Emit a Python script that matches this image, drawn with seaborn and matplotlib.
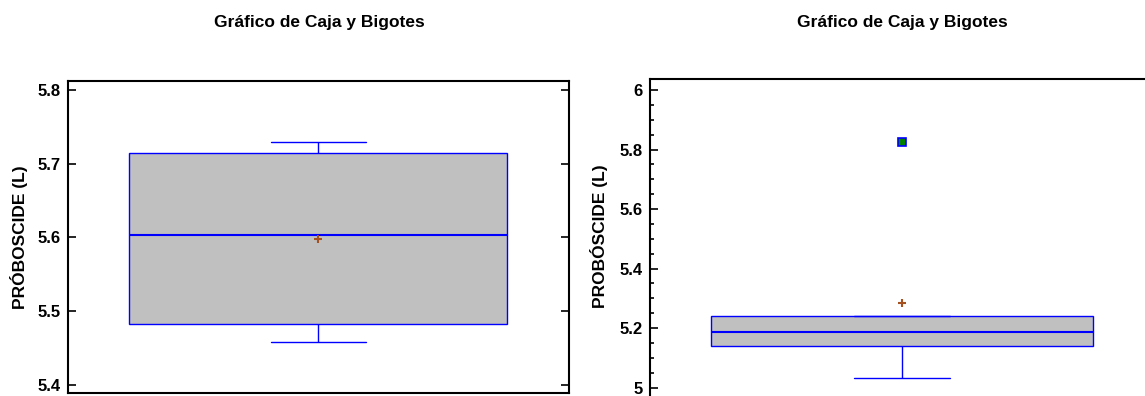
import matplotlib
matplotlib.use("Agg")
import matplotlib.pyplot as plt
from matplotlib.ticker import MultipleLocator
import seaborn as sns
import pandas as pd

left_values = [5.459, 5.4825, 5.603, 5.715, 5.729]
right_values = [5.032, 5.141, 5.186, 5.24, 5.824]

titles = ["Gráfico de Caja y Bigotes", "Gráfico de Caja y Bigotes"]
ylabels = ["PRÓBOSCIDE (L)", "PROBÓSCIDE (L)"]
left_ticks = [5.4, 5.5, 5.6, 5.7, 5.8]
right_ticks = [5.0, 5.2, 5.4, 5.6, 5.8, 6.0]
right_ticklabels = ["5", "5.2", "5.4", "5.6", "5.8", "6"]

sns.set_style("white")
plt.rcParams["font.family"] = ["Liberation Sans", "DejaVu Sans"]
plt.rcParams["font.weight"] = "bold"
plt.rcParams["text.color"] = "black"
plt.rcParams["axes.labelcolor"] = "black"
plt.rcParams["ytick.color"] = "black"

fig = plt.figure(figsize=(11.45, 3.96), dpi=100)
ax1 = fig.add_axes([0.0591, 0.0083, 0.4375, 0.787])
ax2 = fig.add_axes([0.5677, -0.0051, 0.4402, 0.8056])

box_kws = dict(
    color="#C0C0C0",
    linecolor="blue",
    linewidth=1,
    saturation=1,
    showmeans=True,
    meanprops=dict(marker="+", markeredgecolor="#A5501E", markersize=6, markeredgewidth=1.5),
    flierprops=dict(marker="s", markerfacecolor="#008000", markeredgecolor="blue",
                    markersize=5.5, markeredgewidth=1.2),
    medianprops=dict(color="blue", linewidth=1.5),
    capwidths=0.19,
)

df1 = pd.DataFrame({"v": left_values})
df2 = pd.DataFrame({"v": right_values})
sns.boxplot(data=df1, y="v", ax=ax1, width=0.755, **box_kws)
sns.boxplot(data=df2, y="v", ax=ax2, width=0.759, **box_kws)

ax1.set_ylim(5.3896, 5.812)
ax2.set_ylim(4.965, 6.037)

for ax in (ax1, ax2):
    ax.set_xlim(-0.5, 0.5)
    ax.set_xticks([])
    ax.set_xlabel("")
    for s in ax.spines.values():
        s.set_visible(True)
        s.set_color("black")
        s.set_linewidth(1.5)

ax1.set_yticks(left_ticks)
ax1.set_yticklabels([f"{t:.1f}" for t in left_ticks])
ax1.tick_params(axis="y", which="major", direction="in", length=6, width=1.2,
                left=True, right=True, labelsize=12, pad=5)

ax2.set_yticks(right_ticks)
ax2.set_yticklabels(right_ticklabels)
ax2.yaxis.set_minor_locator(MultipleLocator(0.05))
ax2.tick_params(axis="y", which="major", direction="in", length=6, width=1.2,
                left=True, labelsize=12, pad=5)
ax2.tick_params(axis="y", which="minor", direction="in", length=3, width=1.2, left=True)

for ax, lab in zip((ax1, ax2), ylabels):
    ax.set_ylabel(lab, fontsize=12.5, fontweight="bold")
    ax.yaxis.set_label_coords(-0.08, 0.5)
ax2.yaxis.set_label_coords(-0.083, 0.5 + 0.0085)

fig.text(319 / 1145, 1 - 22 / 396, titles[0], ha="center", va="center",
         fontsize=12.5, fontweight="bold")
fig.text(902 / 1145, 1 - 22 / 396, titles[1], ha="center", va="center",
         fontsize=12.5, fontweight="bold")

fig.savefig("out.png", dpi=100)
